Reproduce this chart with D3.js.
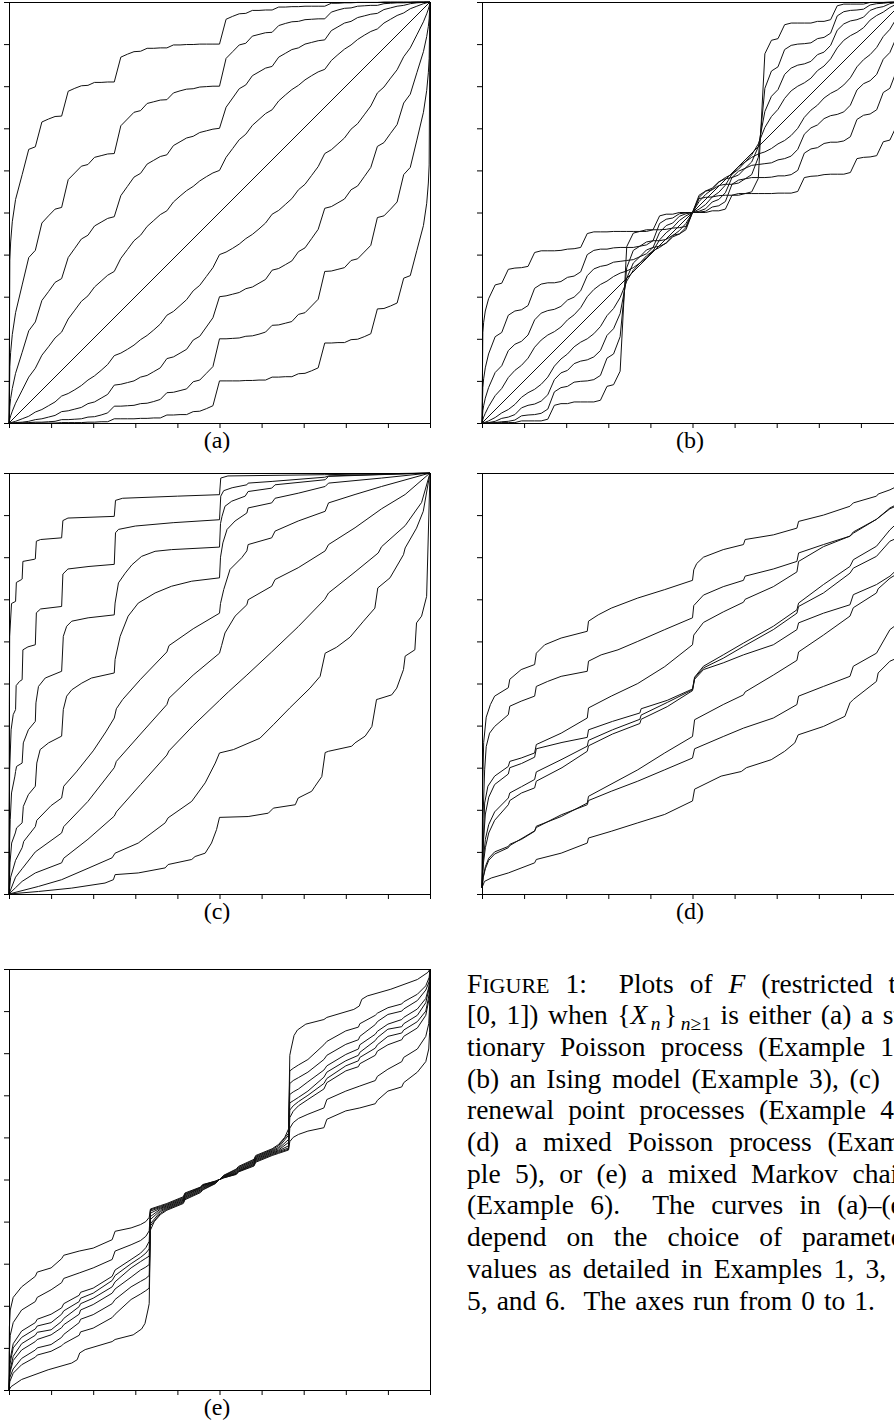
<!DOCTYPE html>
<html><head><meta charset="utf-8">
<script src="https://cdn.jsdelivr.net/npm/d3@7/dist/d3.min.js"></script>
<style>body{margin:0;background:#fff}svg{display:block}</style>
</head><body>
<svg id="fig" width="894" height="1426"></svg>
<script>
// ---------- tick values ----------
const tickVals = [0,0.1,0.2,0.3,0.4,0.5,0.6,0.7,0.8,0.9,1];

// ---------- shared x grid for panels (a) and (b) ----------
const gridX = [0, 0.002, 0.0039, 0.0078,
0.0156, 0.0313, 0.0469, 0.0625, 0.0781, 0.0938, 0.1094, 0.125,
0.1406, 0.1563, 0.1719, 0.1875, 0.2031, 0.2188, 0.2344, 0.25,
0.2656, 0.2813, 0.2969, 0.3125, 0.3281, 0.3438, 0.3594, 0.375,
0.3906, 0.4063, 0.4219, 0.4375, 0.4531, 0.4688, 0.4844, 0.5,
0.5156, 0.5313, 0.5469, 0.5625, 0.5781, 0.5938, 0.6094, 0.625,
0.6406, 0.6563, 0.6719, 0.6875, 0.7031, 0.7188, 0.7344, 0.75,
0.7656, 0.7813, 0.7969, 0.8125, 0.8281, 0.8438, 0.8594, 0.875,
0.8906, 0.9063, 0.9219, 0.9375, 0.9531, 0.9688, 0.9844,
0.9922, 0.9961, 0.998, 1];
const diagLine = [[0,0],[1,1]];

// ---------- panel (a): stationary Poisson ----------
const a90 = [0, .387, .430, .478,
.531, .590, .650, .656, .715, .722, .728, .729,
.788, .795, .801, .802, .809, .809, .810, .810,
.869, .876, .882, .883, .890, .890, .891, .891,
.898, .898, .899, .899, .900, .900, .900, .900,
.959, .966, .972, .973, .980, .980, .981, .981,
.988, .988, .989, .989, .990, .990, .990, .990,
.997, .997, .998, .998, .999, .999, .999, .999,
1, 1, 1, 1, 1, 1, 1,
1, 1, 1, 1];
const a80 = [0, .134, .168, .210,
.262, .328, .393, .410, .475, .492, .508, .512,
.578, .594, .610, .614, .631, .635, .639, .640,
.706, .722, .738, .742, .759, .763, .767, .768,
.784, .789, .793, .794, .798, .799, .800, .800,
.866, .882, .898, .902, .919, .923, .927, .928,
.944, .949, .953, .954, .958, .959, .960, .960,
.976, .981, .985, .986, .990, .991, .992, .992,
.996, .997, .998, .998, .999, 1, 1,
1, 1, 1, 1];
const a70 = [0, .040, .058, .082,
.118, .168, .219, .240, .291, .312, .334, .343,
.393, .415, .437, .446, .468, .477, .486, .490,
.540, .562, .584, .593, .615, .624, .633, .637,
.659, .668, .677, .681, .690, .694, .698, .700,
.750, .772, .794, .803, .825, .834, .843, .847,
.869, .878, .887, .891, .900, .904, .908, .910,
.932, .941, .950, .954, .963, .967, .971, .973,
.982, .986, .990, .992, .996, .998, .999,
1, 1, 1, 1];
const a60 = [0, .010, .017, .028,
.047, .078, .109, .130, .161, .181, .202, .216,
.247, .268, .289, .302, .323, .337, .351, .360,
.391, .412, .433, .446, .467, .481, .495, .504,
.525, .539, .552, .562, .575, .585, .594, .600,
.631, .652, .673, .686, .707, .721, .735, .744,
.765, .779, .792, .802, .815, .825, .834, .840,
.861, .875, .888, .898, .911, .921, .930, .936,
.950, .959, .968, .974, .984, .990, .996,
.998, .999, 1, 1];
const a40 = [0, 0, .001, .002,
.004, .010, .016, .026, .032, .041, .050, .064,
.070, .079, .089, .102, .112, .125, .139, .160,
.166, .175, .185, .198, .208, .221, .235, .256,
.265, .279, .293, .314, .327, .348, .369, .400,
.406, .415, .425, .438, .448, .461, .475, .496,
.505, .519, .533, .554, .567, .588, .609, .640,
.649, .663, .677, .698, .711, .732, .753, .784,
.798, .819, .839, .870, .891, .922, .953,
.972, .983, .990, 1];
const a30 = [0, 0, 0, 0,
.001, .002, .004, .008, .010, .014, .018, .027,
.029, .033, .037, .046, .050, .059, .068, .090,
.092, .096, .100, .109, .113, .122, .131, .153,
.157, .166, .175, .197, .206, .228, .250, .300,
.302, .306, .310, .319, .323, .332, .341, .363,
.367, .376, .385, .407, .416, .438, .460, .510,
.514, .523, .532, .554, .563, .585, .607, .657,
.666, .688, .709, .760, .781, .832, .882,
.918, .942, .960, 1];
const a20 = [0, 0, 0, 0,
0, 0, .001, .002, .002, .003, .004, .008,
.008, .009, .010, .014, .015, .019, .024, .040,
.040, .041, .042, .046, .047, .051, .056, .072,
.073, .077, .081, .098, .102, .118, .134, .200,
.200, .201, .202, .206, .207, .211, .216, .232,
.233, .237, .241, .258, .262, .278, .294, .360,
.361, .365, .369, .386, .390, .406, .422, .488,
.492, .508, .525, .590, .607, .672, .738,
.790, .832, .866, 1];
const a10 = [0, 0, 0, 0,
0, 0, 0, 0, 0, 0, 0, .001,
.001, .001, .001, .002, .002, .003, .003, .010,
.010, .010, .010, .011, .011, .012, .012, .019,
.019, .020, .020, .027, .028, .034, .041, .100,
.100, .100, .100, .101, .101, .102, .102, .109,
.109, .110, .110, .117, .118, .124, .131, .190,
.190, .191, .191, .198, .199, .205, .212, .271,
.272, .278, .285, .344, .350, .410, .469,
.522, .570, .613, 1];

// ---------- panel (b): Ising model ----------
const b90 = [0, .215, .239, .266,
.295, .328, .332, .365, .368, .369, .372, .405,
.409, .409, .409, .410, .413, .414, .417, .450,
.454, .454, .454, .455, .455, .455, .455, .455,
.459, .459, .459, .460, .463, .464, .467, .500,
.533, .536, .537, .540, .541, .541, .541, .545,
.545, .545, .545, .545, .546, .546, .546, .550,
.583, .586, .587, .590, .591, .591, .591, .595,
.628, .631, .632, .635, .668, .672, .705,
.734, .761, .785, 1];
const b80 = [0, .084, .105, .131,
.164, .205, .215, .256, .266, .269, .279, .320,
.330, .333, .333, .336, .346, .349, .359, .400,
.410, .413, .413, .416, .417, .417, .417, .420,
.430, .433, .433, .436, .446, .449, .459, .500,
.541, .551, .554, .564, .567, .567, .570, .580,
.583, .583, .583, .584, .587, .587, .590, .600,
.641, .651, .654, .664, .667, .667, .670, .680,
.721, .731, .734, .744, .785, .795, .836,
.869, .895, .916, 1];
const b70 = [0, .029, .041, .059,
.084, .120, .136, .172, .187, .194, .209, .245,
.261, .267, .270, .277, .292, .299, .314, .350,
.366, .372, .375, .382, .384, .386, .388, .395,
.411, .417, .420, .427, .442, .449, .464, .500,
.536, .551, .558, .573, .580, .583, .589, .605,
.612, .614, .616, .618, .625, .628, .634, .650,
.686, .701, .708, .723, .730, .733, .739, .755,
.791, .806, .813, .828, .864, .880, .916,
.941, .959, .971, 1];
const b60 = [0, .008, .014, .023,
.039, .065, .082, .108, .125, .137, .154, .180,
.197, .209, .217, .228, .245, .257, .274, .300,
.317, .329, .337, .348, .356, .361, .369, .380,
.397, .409, .417, .428, .445, .457, .474, .500,
.526, .543, .555, .572, .583, .591, .603, .620,
.631, .639, .644, .652, .663, .671, .683, .700,
.726, .743, .755, .772, .783, .791, .803, .820,
.846, .863, .875, .892, .918, .935, .961,
.977, .986, .992, 1];
const b40 = [0, 0, .001, .002,
.005, .013, .024, .032, .044, .061, .072, .080,
.092, .109, .135, .152, .164, .181, .192, .200,
.212, .229, .255, .272, .298, .337, .363, .380,
.392, .409, .435, .452, .464, .481, .492, .500,
.508, .519, .537, .548, .565, .591, .609, .620,
.637, .663, .702, .728, .745, .771, .789, .800,
.808, .819, .837, .848, .865, .891, .909, .920,
.928, .939, .957, .968, .976, .987, .995,
.998, .999, 1, 1];
const b30 = [0, 0, 0, 0,
.001, .004, .011, .014, .020, .036, .042, .045,
.052, .067, .103, .119, .125, .141, .147, .150,
.157, .172, .208, .224, .260, .344, .380, .395,
.402, .417, .453, .469, .475, .491, .497, .500,
.503, .509, .525, .531, .547, .583, .598, .605,
.620, .656, .740, .776, .792, .828, .843, .850,
.853, .859, .875, .881, .897, .933, .948, .955,
.958, .964, .980, .986, .989, .996, .999,
1, 1, 1, 1];
const b20 = [0, 0, 0, 0,
0, .001, .003, .004, .007, .017, .019, .020,
.023, .033, .074, .084, .087, .097, .099, .100,
.103, .113, .154, .164, .205, .369, .410, .420,
.423, .433, .474, .484, .487, .497, .499, .500,
.501, .503, .513, .516, .526, .567, .577, .580,
.590, .631, .795, .836, .846, .887, .897, .900,
.901, .903, .913, .916, .926, .967, .977, .980,
.981, .983, .993, .996, .997, .999, 1,
1, 1, 1, 1];
const b10 = [0, 0, 0, 0,
0, 0, .001, .001, .001, .005, .005, .005,
.005, .009, .042, .046, .046, .050, .050, .050,
.050, .054, .087, .091, .123, .419, .451, .455,
.455, .459, .492, .496, .496, .500, .500, .500,
.500, .500, .504, .504, .508, .541, .545, .545,
.549, .581, .877, .909, .913, .946, .950, .950,
.950, .950, .954, .954, .958, .991, .995, .995,
.995, .995, .999, .999, .999, 1, 1,
1, 1, 1, 1];

// ---------- panel (c): renewal point processes ----------
const c1 = [[0,0],[0.0008,0.45],[0.0016,0.612],[0.006,0.69],[0.0156,0.695],[0.0175,0.74],[0.03,0.747],[0.0312,0.748],[0.033,0.79],[0.06,0.795],[0.0625,0.796],[0.065,0.838],[0.075,0.842],[0.125,0.846],[0.128,0.887],[0.14,0.893],[0.25,0.897],[0.253,0.935],[0.27,0.94],[0.4,0.945],[0.5,0.9485],[0.503,0.988],[0.52,0.993],[0.75,0.996],[1,1]];
const c2 = [[0,0],[0.0008,0.2],[0.0016,0.295],[0.005,0.39],[0.01,0.426],[0.0156,0.438],[0.017,0.495],[0.025,0.505],[0.0312,0.509],[0.033,0.58],[0.045,0.587],[0.0625,0.592],[0.065,0.668],[0.075,0.677],[0.125,0.683],[0.128,0.76],[0.14,0.772],[0.19,0.778],[0.25,0.783],[0.253,0.858],[0.26,0.866],[0.3,0.874],[0.39,0.882],[0.5,0.889],[0.503,0.945],[0.51,0.958],[0.53,0.965],[0.565,0.972],[0.568,0.976],[0.625,0.98],[0.75,0.99],[0.76,0.993],[1,1]];
const c3 = [[0,0],[0.0008,0.097],[0.003,0.177],[0.006,0.24],[0.014,0.28],[0.0156,0.291],[0.018,0.303],[0.0312,0.311],[0.034,0.359],[0.046,0.39],[0.0625,0.41],[0.064,0.454],[0.07,0.493],[0.086,0.513],[0.125,0.529],[0.129,0.612],[0.137,0.636],[0.149,0.648],[0.188,0.656],[0.25,0.663],[0.252,0.691],[0.26,0.739],[0.276,0.762],[0.292,0.782],[0.315,0.802],[0.347,0.814],[0.386,0.818],[0.5,0.824],[0.5024,0.88],[0.506,0.897],[0.513,0.921],[0.529,0.933],[0.561,0.945],[0.568,0.956],[0.624,0.964],[0.632,0.972],[0.751,0.984],[0.759,0.992],[1,1]];
const c4 = [[0,0],[0.0024,0.074],[0.0063,0.121],[0.015,0.145],[0.018,0.157],[0.0312,0.169],[0.034,0.208],[0.046,0.236],[0.0625,0.256],[0.066,0.311],[0.074,0.343],[0.094,0.359],[0.125,0.375],[0.129,0.438],[0.137,0.47],[0.149,0.485],[0.173,0.501],[0.196,0.513],[0.25,0.525],[0.252,0.557],[0.264,0.612],[0.283,0.66],[0.307,0.691],[0.347,0.715],[0.386,0.731],[0.434,0.743],[0.5,0.751],[0.5024,0.8],[0.508,0.834],[0.518,0.866],[0.537,0.886],[0.565,0.905],[0.568,0.917],[0.624,0.929],[0.632,0.94],[0.687,0.952],[0.751,0.968],[0.759,0.976],[0.885,0.988],[1,1]];
const c5 = [[0,0],[0.004,0.04],[0.0156,0.08],[0.0312,0.11],[0.035,0.125],[0.0625,0.16],[0.066,0.175],[0.1,0.21],[0.125,0.228],[0.13,0.256],[0.16,0.29],[0.2,0.34],[0.23,0.385],[0.25,0.418],[0.255,0.44],[0.27,0.462],[0.3125,0.51],[0.375,0.575],[0.38,0.59],[0.4375,0.63],[0.5,0.667],[0.5024,0.69],[0.51,0.723],[0.525,0.771],[0.553,0.799],[0.565,0.815],[0.568,0.83],[0.624,0.846],[0.632,0.862],[0.687,0.886],[0.751,0.909],[0.759,0.929],[0.822,0.949],[0.885,0.968],[1,1]];
const c6 = [[0,0],[0.0156,0.04],[0.0312,0.06],[0.0625,0.1],[0.125,0.145],[0.13,0.16],[0.1875,0.22],[0.25,0.3],[0.255,0.315],[0.3125,0.38],[0.375,0.45],[0.38,0.465],[0.4375,0.52],[0.5,0.572],[0.505,0.59],[0.513,0.62],[0.537,0.66],[0.565,0.687],[0.568,0.699],[0.624,0.731],[0.632,0.747],[0.687,0.775],[0.751,0.815],[0.759,0.83],[0.822,0.87],[0.885,0.915],[0.941,0.949],[1,1]];
const c7 = [[0,0],[0.0156,0.015],[0.0312,0.03],[0.0625,0.05],[0.125,0.074],[0.13,0.085],[0.1875,0.13],[0.25,0.185],[0.255,0.195],[0.3125,0.26],[0.375,0.33],[0.38,0.34],[0.4375,0.4],[0.5,0.46],[0.521,0.48],[0.565,0.52],[0.624,0.575],[0.687,0.635],[0.75,0.7],[0.759,0.715],[0.822,0.765],[0.877,0.81],[0.885,0.825],[0.941,0.875],[0.98,0.93],[1,1]];
const c8 = [[0,0],[0.07,0.018],[0.125,0.034],[0.19,0.062],[0.245,0.086],[0.252,0.097],[0.307,0.121],[0.371,0.169],[0.378,0.181],[0.434,0.22],[0.466,0.264],[0.49,0.311],[0.5,0.335],[0.533,0.343],[0.596,0.37],[0.628,0.402],[0.667,0.442],[0.715,0.489],[0.739,0.517],[0.751,0.572],[0.778,0.586],[0.81,0.61],[0.842,0.648],[0.869,0.679],[0.876,0.727],[0.905,0.751],[0.937,0.806],[0.941,0.822],[0.968,0.869],[0.984,0.909],[1,1]];
const c9 = [[0,0],[0.07,0.006],[0.149,0.014],[0.228,0.026],[0.248,0.034],[0.252,0.046],[0.307,0.05],[0.371,0.062],[0.378,0.07],[0.434,0.082],[0.442,0.089],[0.466,0.097],[0.481,0.121],[0.493,0.153],[0.5,0.182],[0.568,0.184],[0.616,0.192],[0.628,0.204],[0.68,0.212],[0.687,0.228],[0.719,0.244],[0.727,0.256],[0.743,0.279],[0.751,0.336],[0.759,0.339],[0.814,0.351],[0.822,0.359],[0.846,0.375],[0.862,0.398],[0.873,0.462],[0.877,0.463],[0.909,0.473],[0.921,0.489],[0.937,0.533],[0.941,0.565],[0.964,0.58],[0.968,0.644],[0.98,0.66],[0.992,0.707],[1,1]];

// ---------- panel (d): mixed Poisson ----------
const m1 = [[0,0.015],[0.0015,0.25],[0.004,0.36],[0.01,0.42],[0.02,0.45],[0.03,0.47],[0.0625,0.49],[0.066,0.51],[0.093,0.533],[0.125,0.545],[0.129,0.572],[0.149,0.592],[0.188,0.608],[0.25,0.624],[0.253,0.648],[0.276,0.663],[0.307,0.679],[0.37,0.703],[0.434,0.723],[0.5,0.745],[0.503,0.77],[0.51,0.785],[0.526,0.8],[0.573,0.818],[0.621,0.83],[0.625,0.842],[0.692,0.853],[0.748,0.869],[0.752,0.885],[0.811,0.9],[0.874,0.921],[0.882,0.929],[0.937,0.945],[0.941,0.95],[0.969,0.96],[0.985,0.968],[1,1]];
const m2 = [[0,0.015],[0.0024,0.18],[0.0063,0.295],[0.01,0.35],[0.018,0.382],[0.03,0.398],[0.0625,0.426],[0.066,0.446],[0.093,0.458],[0.125,0.47],[0.129,0.493],[0.156,0.505],[0.188,0.517],[0.25,0.529],[0.253,0.553],[0.283,0.568],[0.323,0.58],[0.37,0.6],[0.434,0.628],[0.5,0.656],[0.503,0.685],[0.526,0.71],[0.573,0.73],[0.621,0.745],[0.625,0.755],[0.692,0.772],[0.748,0.79],[0.752,0.81],[0.811,0.83],[0.874,0.85],[0.882,0.86],[0.937,0.89],[0.969,0.917],[0.985,0.925],[1,1]];
const m3 = [[0,0.015],[0.0063,0.216],[0.014,0.256],[0.03,0.28],[0.0625,0.303],[0.066,0.315],[0.093,0.323],[0.125,0.335],[0.129,0.355],[0.188,0.382],[0.25,0.418],[0.253,0.442],[0.307,0.47],[0.37,0.5],[0.434,0.54],[0.5,0.592],[0.503,0.615],[0.526,0.645],[0.573,0.67],[0.621,0.693],[0.625,0.7],[0.692,0.73],[0.748,0.765],[0.752,0.79],[0.811,0.825],[0.874,0.85],[0.882,0.857],[0.937,0.89],[0.969,0.915],[0.985,0.922],[1,1]];
const m4 = [[0,0.015],[0.003,0.12],[0.008,0.19],[0.016,0.23],[0.03,0.26],[0.0625,0.285],[0.066,0.3],[0.094,0.31],[0.125,0.325],[0.129,0.345],[0.19,0.36],[0.25,0.372],[0.253,0.39],[0.31,0.41],[0.375,0.43],[0.378,0.44],[0.44,0.46],[0.5,0.487],[0.505,0.515],[0.526,0.541],[0.573,0.568],[0.621,0.596],[0.692,0.636],[0.748,0.675],[0.752,0.691],[0.811,0.735],[0.874,0.778],[0.882,0.794],[0.937,0.826],[0.969,0.865],[0.985,0.88],[1,1]];
const m5 = [[0,0.015],[0.003,0.08],[0.008,0.13],[0.016,0.165],[0.03,0.195],[0.0625,0.228],[0.066,0.24],[0.094,0.255],[0.125,0.272],[0.129,0.29],[0.19,0.32],[0.25,0.351],[0.253,0.365],[0.31,0.39],[0.375,0.415],[0.378,0.425],[0.44,0.455],[0.5,0.485],[0.505,0.513],[0.526,0.537],[0.573,0.56],[0.621,0.588],[0.692,0.628],[0.748,0.667],[0.752,0.683],[0.811,0.715],[0.874,0.762],[0.882,0.774],[0.937,0.802],[0.969,0.838],[0.985,0.845],[1,1]];
const m6 = [[0,0.015],[0.003,0.07],[0.008,0.11],[0.016,0.145],[0.03,0.175],[0.0625,0.212],[0.066,0.222],[0.094,0.24],[0.125,0.252],[0.129,0.268],[0.19,0.3],[0.25,0.339],[0.253,0.352],[0.31,0.38],[0.375,0.405],[0.378,0.415],[0.44,0.445],[0.5,0.483],[0.505,0.51],[0.526,0.533],[0.573,0.549],[0.621,0.568],[0.692,0.592],[0.748,0.628],[0.752,0.644],[0.811,0.667],[0.874,0.687],[0.882,0.711],[0.937,0.735],[0.969,0.755],[0.985,0.77],[1,1]];
const m7 = [[0,0.015],[0.003,0.04],[0.008,0.065],[0.016,0.085],[0.03,0.1],[0.0625,0.113],[0.066,0.118],[0.094,0.13],[0.125,0.149],[0.129,0.161],[0.188,0.184],[0.25,0.216],[0.253,0.232],[0.37,0.295],[0.434,0.335],[0.5,0.374],[0.505,0.414],[0.573,0.45],[0.621,0.473],[0.625,0.48],[0.692,0.52],[0.748,0.555],[0.752,0.575],[0.811,0.615],[0.874,0.66],[0.882,0.68],[0.937,0.715],[0.941,0.725],[0.969,0.75],[0.985,0.76],[1,1]];
const m8 = [[0,0.015],[0.003,0.04],[0.008,0.06],[0.016,0.08],[0.03,0.095],[0.0625,0.11],[0.066,0.115],[0.125,0.15],[0.129,0.158],[0.188,0.188],[0.25,0.212],[0.253,0.222],[0.307,0.244],[0.37,0.268],[0.434,0.295],[0.5,0.323],[0.505,0.345],[0.573,0.374],[0.621,0.394],[0.692,0.418],[0.748,0.45],[0.752,0.47],[0.811,0.493],[0.874,0.517],[0.882,0.541],[0.937,0.572],[0.969,0.628],[0.985,0.64],[1,1]];
const m9 = [[0,0.015],[0.006,0.03],[0.022,0.038],[0.0625,0.05],[0.125,0.074],[0.129,0.082],[0.188,0.097],[0.25,0.121],[0.253,0.133],[0.307,0.149],[0.37,0.169],[0.434,0.189],[0.5,0.221],[0.505,0.249],[0.568,0.28],[0.616,0.291],[0.628,0.3],[0.687,0.319],[0.719,0.339],[0.743,0.359],[0.751,0.378],[0.811,0.398],[0.862,0.422],[0.874,0.454],[0.882,0.462],[0.937,0.505],[0.941,0.525],[0.969,0.553],[0.985,0.56],[1,1]];

// ---------- panel (e): mixed Markov chain ----------
const e1 = [[0,0],[0.001,0.15],[0.003,0.19],[0.01,0.22],[0.03,0.245],[0.0625,0.27],[0.067,0.28],[0.1,0.29],[0.125,0.312],[0.13,0.32],[0.1667,0.33],[0.2,0.337],[0.245,0.357],[0.252,0.377],[0.29,0.385],[0.3125,0.393],[0.325,0.4],[0.333,0.41],[0.336,0.43],[0.36,0.438],[0.375,0.443],[0.414,0.459],[0.418,0.468],[0.455,0.482],[0.46,0.488],[0.49,0.496],[0.5,0.5],
[0.51,0.504],[0.54,0.512],[0.545,0.518],[0.582,0.532],[0.586,0.541],[0.625,0.557],[0.64,0.562],[0.664,0.57],[0.667,0.59],[0.675,0.6],[0.6875,0.607],[0.71,0.615],[0.748,0.623],[0.755,0.643],[0.8,0.663],[0.8333,0.67],[0.87,0.68],[0.875,0.688],[0.9,0.71],[0.933,0.72],[0.9375,0.73],[0.97,0.755],[0.99,0.78],[0.997,0.81],[0.999,0.85],[1,1]];
const e2 = [[0,0],[0.001,0.09],[0.003,0.13],[0.01,0.16],[0.03,0.19],[0.0625,0.21],[0.067,0.22],[0.1,0.238],[0.125,0.255],[0.13,0.265],[0.1667,0.278],[0.2,0.29],[0.245,0.31],[0.252,0.33],[0.29,0.345],[0.3125,0.355],[0.325,0.365],[0.333,0.378],[0.336,0.428],[0.36,0.436],[0.375,0.441],[0.414,0.457],[0.418,0.466],[0.455,0.481],[0.46,0.487],[0.49,0.496],[0.5,0.5],
[0.51,0.504],[0.54,0.513],[0.545,0.519],[0.582,0.534],[0.586,0.543],[0.625,0.559],[0.64,0.564],[0.664,0.572],[0.667,0.622],[0.675,0.635],[0.6875,0.645],[0.71,0.655],[0.748,0.67],[0.755,0.69],[0.8,0.71],[0.8333,0.722],[0.87,0.735],[0.875,0.745],[0.9,0.762],[0.933,0.78],[0.9375,0.79],[0.97,0.81],[0.99,0.84],[0.997,0.87],[0.999,0.91],[1,1]];
const e3 = [[0,0],[0.002,0.07],[0.01,0.11],[0.03,0.14],[0.0625,0.16],[0.067,0.168],[0.1,0.18],[0.125,0.195],[0.13,0.205],[0.1667,0.225],[0.17,0.232],[0.2,0.242],[0.245,0.27],[0.252,0.285],[0.29,0.31],[0.3125,0.325],[0.325,0.338],[0.333,0.353],[0.336,0.425],[0.36,0.434],[0.375,0.439],[0.414,0.455],[0.418,0.464],[0.455,0.48],[0.46,0.486],[0.49,0.495],[0.5,0.5],
[0.51,0.505],[0.54,0.514],[0.545,0.52],[0.582,0.536],[0.586,0.545],[0.625,0.561],[0.64,0.566],[0.664,0.575],[0.667,0.647],[0.675,0.662],[0.6875,0.675],[0.71,0.69],[0.748,0.715],[0.755,0.73],[0.8,0.758],[0.83,0.768],[0.8333,0.775],[0.87,0.795],[0.875,0.805],[0.9,0.82],[0.933,0.832],[0.9375,0.84],[0.97,0.86],[0.99,0.89],[0.998,0.93],[1,1]];
const e4 = [[0,0],[0.002,0.06],[0.01,0.1],[0.03,0.125],[0.0625,0.145],[0.067,0.152],[0.1,0.16],[0.125,0.18],[0.13,0.188],[0.1667,0.21],[0.17,0.218],[0.2,0.23],[0.245,0.26],[0.252,0.272],[0.29,0.3],[0.3125,0.315],[0.325,0.325],[0.333,0.335],[0.336,0.42],[0.36,0.432],[0.375,0.437],[0.414,0.453],[0.418,0.462],[0.455,0.479],[0.46,0.485],[0.49,0.495],[0.5,0.5],
[0.51,0.505],[0.54,0.515],[0.545,0.521],[0.582,0.538],[0.586,0.547],[0.625,0.563],[0.64,0.568],[0.664,0.58],[0.667,0.665],[0.675,0.675],[0.6875,0.685],[0.71,0.7],[0.748,0.728],[0.755,0.74],[0.8,0.77],[0.83,0.782],[0.8333,0.79],[0.87,0.812],[0.875,0.82],[0.9,0.84],[0.933,0.848],[0.9375,0.855],[0.97,0.875],[0.99,0.9],[0.998,0.94],[1,1]];
const e5 = [[0,0],[0.002,0.045],[0.01,0.08],[0.03,0.11],[0.0625,0.13],[0.067,0.137],[0.1,0.143],[0.125,0.163],[0.13,0.17],[0.1667,0.198],[0.17,0.205],[0.2,0.218],[0.245,0.245],[0.252,0.257],[0.29,0.29],[0.3125,0.305],[0.325,0.313],[0.333,0.318],[0.336,0.412],[0.36,0.43],[0.375,0.435],[0.414,0.451],[0.418,0.46],[0.455,0.477],[0.46,0.483],[0.49,0.494],[0.5,0.5],
[0.51,0.506],[0.54,0.517],[0.545,0.523],[0.582,0.54],[0.586,0.549],[0.625,0.565],[0.64,0.57],[0.664,0.588],[0.667,0.682],[0.675,0.687],[0.6875,0.695],[0.71,0.71],[0.748,0.743],[0.755,0.755],[0.8,0.782],[0.83,0.795],[0.8333,0.802],[0.87,0.83],[0.875,0.837],[0.9,0.857],[0.933,0.863],[0.9375,0.87],[0.97,0.89],[0.99,0.92],[0.998,0.955],[1,1]];
const e6 = [[0,0],[0.002,0.04],[0.01,0.07],[0.03,0.095],[0.0625,0.115],[0.067,0.12],[0.1,0.131],[0.125,0.148],[0.13,0.155],[0.1667,0.18],[0.17,0.19],[0.2,0.203],[0.245,0.23],[0.252,0.24],[0.29,0.268],[0.3125,0.285],[0.325,0.292],[0.333,0.298],[0.336,0.405],[0.36,0.427],[0.375,0.433],[0.414,0.449],[0.418,0.458],[0.455,0.475],[0.46,0.481],[0.49,0.493],[0.5,0.5],
[0.51,0.507],[0.54,0.519],[0.545,0.525],[0.582,0.542],[0.586,0.551],[0.625,0.567],[0.64,0.573],[0.664,0.595],[0.667,0.702],[0.675,0.708],[0.6875,0.715],[0.71,0.732],[0.748,0.76],[0.755,0.77],[0.8,0.797],[0.83,0.81],[0.8333,0.82],[0.87,0.845],[0.875,0.852],[0.9,0.869],[0.933,0.88],[0.9375,0.885],[0.97,0.905],[0.99,0.93],[0.998,0.96],[1,1]];
const e7 = [[0,0],[0.002,0.03],[0.01,0.05],[0.03,0.075],[0.0625,0.095],[0.067,0.1],[0.1,0.108],[0.125,0.125],[0.13,0.132],[0.1667,0.16],[0.17,0.168],[0.2,0.179],[0.245,0.205],[0.252,0.215],[0.29,0.245],[0.3125,0.258],[0.325,0.265],[0.333,0.272],[0.336,0.395],[0.36,0.424],[0.375,0.431],[0.414,0.447],[0.418,0.456],[0.455,0.473],[0.46,0.479],[0.49,0.492],[0.5,0.5],
[0.51,0.508],[0.54,0.521],[0.545,0.527],[0.582,0.544],[0.586,0.553],[0.625,0.569],[0.64,0.576],[0.664,0.605],[0.667,0.728],[0.675,0.735],[0.6875,0.742],[0.71,0.755],[0.748,0.785],[0.755,0.795],[0.8,0.821],[0.83,0.832],[0.8333,0.84],[0.87,0.868],[0.875,0.875],[0.9,0.892],[0.933,0.9],[0.9375,0.905],[0.97,0.925],[0.99,0.95],[0.998,0.97],[1,1]];
const e8 = [[0,0],[0.002,0.02],[0.01,0.04],[0.03,0.06],[0.0625,0.078],[0.067,0.083],[0.1,0.092],[0.125,0.105],[0.13,0.11],[0.1667,0.13],[0.17,0.138],[0.2,0.147],[0.245,0.172],[0.252,0.18],[0.29,0.215],[0.3125,0.228],[0.325,0.236],[0.333,0.242],[0.336,0.39],[0.36,0.42],[0.375,0.429],[0.414,0.445],[0.418,0.454],[0.455,0.471],[0.46,0.477],[0.49,0.491],[0.5,0.5],
[0.51,0.509],[0.54,0.523],[0.545,0.529],[0.582,0.546],[0.586,0.555],[0.625,0.571],[0.64,0.58],[0.664,0.61],[0.667,0.758],[0.675,0.764],[0.6875,0.772],[0.71,0.785],[0.748,0.82],[0.755,0.828],[0.8,0.853],[0.83,0.862],[0.8333,0.87],[0.87,0.89],[0.875,0.895],[0.9,0.908],[0.933,0.917],[0.9375,0.922],[0.97,0.94],[0.99,0.96],[0.998,0.98],[1,1]];
const e9 = [[0,0],[0.005,0.008],[0.03,0.025],[0.093,0.048],[0.149,0.064],[0.162,0.072],[0.168,0.088],[0.181,0.096],[0.245,0.115],[0.252,0.12],[0.295,0.131],[0.315,0.145],[0.323,0.158],[0.33,0.19],[0.333,0.205],[0.336,0.38],[0.345,0.4],[0.36,0.417],[0.375,0.427],[0.414,0.443],[0.418,0.452],[0.455,0.469],[0.46,0.475],[0.49,0.49],[0.5,0.5],
[0.51,0.51],[0.54,0.525],[0.545,0.531],[0.582,0.548],[0.586,0.557],[0.625,0.573],[0.64,0.583],[0.655,0.6],[0.664,0.62],[0.667,0.795],[0.67,0.81],[0.677,0.842],[0.685,0.855],[0.705,0.869],[0.748,0.88],[0.755,0.885],[0.819,0.904],[0.832,0.912],[0.838,0.928],[0.851,0.936],[0.907,0.952],[0.97,0.975],[0.995,0.992],[1,1]];

// ---------- caption ----------
const captionLines = [
  [["F","r"],["IGURE","sc"],[" 1:  Plots of ","r"],["F","i"],[" (restricted to","r"]],
  [["[0, 1]) when {","r"],["X","i"],["n","subi"],["}","r"],["n","subi"],["≥1","sub"],[" is either (a) a sta-","r"]],
  [["tionary Poisson process (Example 1),","r"]],
  [["(b) an Ising model (Example 3), (c)","r"]],
  [["renewal point processes (Example 4),","r"]],
  [["(d) a mixed Poisson process (Exam-","r"]],
  [["ple 5), or (e) a mixed Markov chain","r"]],
  [["(Example 6).  The curves in (a)–(e)","r"]],
  [["depend on the choice of parameter","r"]],
  [["values as detailed in Examples 1, 3, 4,","r"]],
  [["5, and 6.  The axes run from 0 to 1.","r"]]
];
const captionEnds = [910,912,910,880,910,910,912,912,912,918,875];

// ---------- drawing ----------
const SIZE = 421;
const svg = d3.select("#fig");
svg.append("rect").attr("width",894).attr("height",1426).attr("fill","#fff");
const sx = d3.scaleLinear().domain([0,1]).range([0,SIZE]);
const sy = d3.scaleLinear().domain([0,1]).range([SIZE,0]);
const lineGen = d3.line().x(d=>sx(d[0])).y(d=>sy(d[1]));
const onGrid = ys => gridX.map((x,i)=>[x, ys[i]]);

const panels = [
  {x0:9,   y0:2,   label:"(a)", curves:[a90,a80,a70,a60,a40,a30,a20,a10].map(onGrid).concat([diagLine])},
  {x0:482, y0:2,   label:"(b)", curves:[b90,b80,b70,b60,b40,b30,b20,b10].map(onGrid).concat([diagLine])},
  {x0:9,   y0:473, label:"(c)", curves:[c1,c2,c3,c4,c5,c6,c7,c8,c9]},
  {x0:482, y0:473, label:"(d)", curves:[m1,m2,m3,m4,m5,m6,m7,m8,m9]},
  {x0:9,   y0:969, label:"(e)", curves:[e1,e2,e3,e4,e5,e6,e7,e8,e9]}
];

panels.forEach(p=>{
  const g = svg.append("g").attr("transform",`translate(${p.x0},${p.y0})`);
  g.append("g").selectAll("path").data(p.curves).join("path")
    .attr("d",lineGen).attr("fill","none").attr("stroke","#111")
    .attr("stroke-width",1).attr("stroke-linejoin","round");
  g.append("g")
    .call(d3.axisLeft(sy).tickValues(tickVals).tickSize(5).tickSizeOuter(0).tickFormat(""));
  g.append("g").attr("transform",`translate(0,${SIZE})`)
    .call(d3.axisBottom(sx).tickValues(tickVals).tickSize(5).tickSizeOuter(0).tickFormat(""));
  g.selectAll(".domain").attr("stroke","#000");
  g.selectAll(".tick line").attr("stroke","#000");
  g.append("rect").attr("x",0.5).attr("y",0.5).attr("width",SIZE).attr("height",SIZE)
    .attr("fill","none").attr("stroke","#000").attr("stroke-width",1);
  svg.append("text").attr("x",p.x0+208).attr("y",p.y0+SIZE+24.5)
    .attr("text-anchor","middle").attr("font-family","'Liberation Serif','Times New Roman',serif")
    .attr("font-size",24).attr("fill","#000").text(p.label);
});

// caption: one text element per line; the math of line 2 is kept inside one string
const capX = 467, capY0 = 992.5, capDY = 31.7;
captionLines.forEach((segs,i)=>{
  const t = svg.append("text").attr("x",capX).attr("y",capY0+i*capDY)
    .attr("font-family","'Liberation Serif','Times New Roman',serif")
    .attr("font-size",27.5).attr("fill","#000").style("white-space","pre");
  let shift = 0, full = "";
  segs.forEach(([txt,st])=>{
    const sub = (st==="sub"||st==="subi");
    const ts = t.append("tspan").text(txt);
    const target = sub ? 6 : 0;
    if (target!==shift){ ts.attr("dy", target-shift); shift = target; }
    if (st==="i"||st==="subi") ts.attr("font-style","italic");
    if (sub) ts.attr("font-size",19.5);
    if (st==="subi" || (st==="r" && txt==="}")) ts.attr("dx", 3.5);
    if (st==="sc") ts.attr("font-size",22);
    full += txt;
  });
  const nat = t.node().getComputedTextLength();
  const spaces = (full.match(/ /g)||[]).length;
  if (spaces>0){
    const ws = (captionEnds[i]-capX-nat)/spaces;
    t.style("word-spacing", ws+"px");
  }
});
</script>
</body></html>
